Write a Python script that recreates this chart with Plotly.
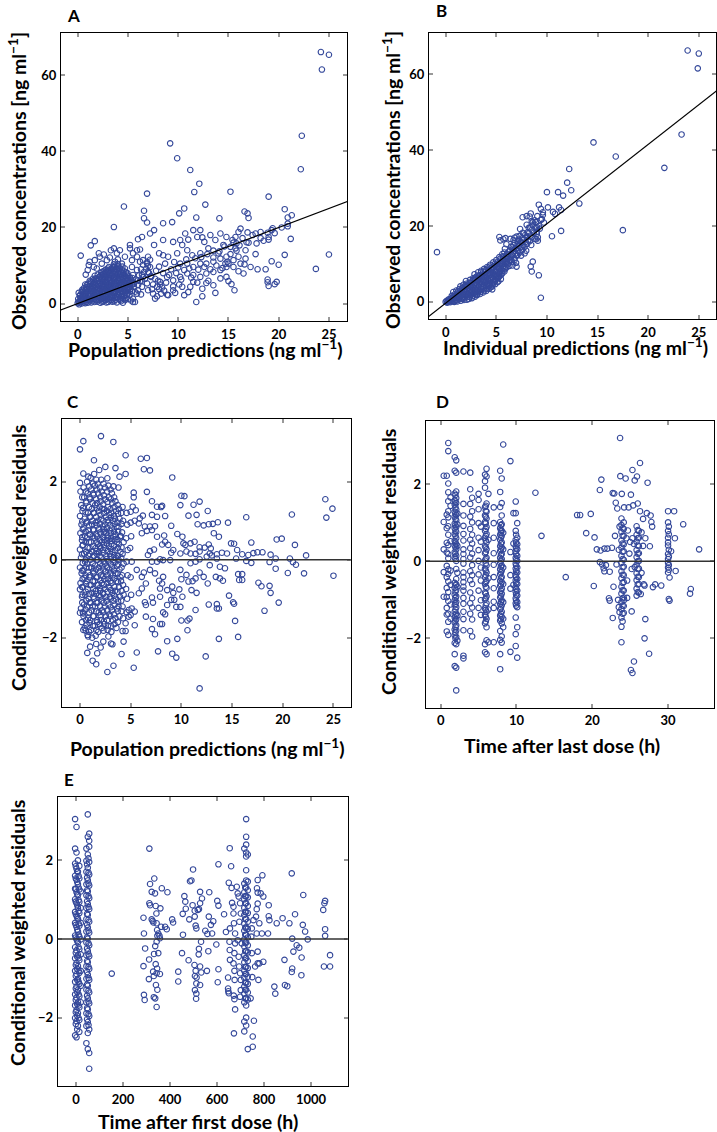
import plotly.graph_objects as go

MARKER = "#34489a"
FONT = "Lato"

# ---------------- data ----------------
# A: observed concentration vs population prediction (ng/ml)
a_sparse = [
    (24.2, 66.1), (25.0, 65.4), (24.3, 61.5), (22.3, 44.1), (22.2, 35.3), (9.2, 42.1), (9.9, 38.2),
    (11.2, 35.1), (12.1, 31.5), (11.6, 29.3), (15.2, 29.4), (6.9, 28.9), (19.0, 28.1), (12.7, 26.0),
    (4.6, 25.5), (20.6, 24.8), (16.6, 24.2), (16.9, 23.7), (17.0, 22.5), (21.3, 23.2), (20.9, 22.6),
    (20.9, 21.0), (6.6, 24.4), (6.6, 22.4), (6.9, 21.3), (8.5, 21.1), (9.4, 21.4), (10.1, 23.7),
    (10.6, 25.0), (3.6, 20.1), (14.1, 22.4), (11.8, 22.6), (19.4, 19.8), (21.2, 17.0), (23.7, 9.1),
    (25.0, 12.9), (20.6, 12.8), (17.7, 13.0), (17.9, 9.0), (18.7, 9.0), (19.3, 11.1), (20.0, 10.2),
    (18.9, 6.3), (18.9, 5.6), (19.0, 4.6), (19.6, 5.1), (19.8, 5.7), (11.8, 0.4), (12.4, 1.9),
    (13.7, 2.8), (15.6, 3.5), (15.3, 5.1), (15.0, 5.9), (10.6, 2.2), (0.3, 12.6), (1.3, 15.3),
    (1.7, 16.4), (18.9, 18.6), (19.0, 16.8), (19.3, 19.3), (18.2, 18.8), (17.7, 18.4), (16.9, 18.7),
    (16.2, 19.7), (16.0, 18.8), (15.7, 17.5), (15.4, 16.7), (15.8, 15.8), (15.7, 14.5), (15.2, 14.9),
    (16.8, 16.1),
    (5.2, 15.4), (5.2, 14.5), (6.0, 16.9), (6.4, 17.5), (5.9, 14.0), (6.2, 14.2), (7.6, 15.4),
    (7.2, 18.4), (7.6, 19.3), (8.5, 16.7), (9.5, 16.2), (10.2, 16.7), (10.4, 15.4), (10.7, 18.4),
    (11.0, 16.8), (11.5, 19.3), (11.9, 17.5), (12.2, 19.3), (12.4, 17.4), (12.6, 16.2), (13.2, 18.0),
    (13.7, 16.7), (14.2, 18.4), (14.5, 15.4), (14.8, 17.5), (13.0, 14.5), (13.5, 13.9), (14.0, 13.2),
    (12.2, 13.2), (11.4, 12.7), (10.9, 14.0), (9.9, 13.2), (9.0, 12.3), (8.5, 12.7), (8.1, 13.2),
    (9.6, 10.9), (10.2, 10.5), (10.9, 10.5), (11.5, 9.6), (12.2, 10.5), (12.8, 10.5), (13.5, 11.0),
    (14.2, 11.8), (14.8, 12.3), (15.5, 11.4), (16.0, 12.3), (14.2, 8.8), (13.5, 8.3), (12.8, 7.9),
    (12.2, 7.0), (11.5, 7.5), (10.9, 7.9), (10.2, 7.0), (9.5, 6.1), (8.9, 7.0), (8.2, 5.7), (7.9, 4.4),
    (7.7, 1.3), (9.0, 2.2), (9.5, 3.5), (10.4, 4.4), (11.2, 4.4), (11.5, 5.7), (12.8, 5.4), (13.5, 4.8),
    (14.2, 6.6), (14.8, 9.6), (14.7, 10.5), (15.5, 9.6), (16.2, 10.5), (16.7, 11.8), (17.2, 9.6),
    (16.5, 7.9), (6.5, 11.4), (6.9, 10.5), (7.2, 9.6), (7.0, 8.3), (6.5, 7.0), (7.3, 7.0), (6.9, 5.3),
    (6.4, 4.4), (6.0, 3.5), (7.0, 3.5), (7.5, 2.6), (5.9, 2.6), (5.5, 1.3), (5.7, 0.4), (7.9, 1.9),
    (5.5, 13.2), (5.4, 11.4), (5.9, 12.3), (6.2, 11.0), (5.4, 9.6), (5.9, 8.8), (5.5, 7.5), (5.0, 6.6),
    (6.0, 6.1), (4.2, 14.0), (3.9, 13.2), (3.3, 14.0), (3.6, 14.5), (2.6, 12.9), (2.2, 12.3),
    (2.1, 13.2), (1.7, 11.4), (1.1, 10.1), (1.0, 8.8), (1.2, 11.0), (1.6, 9.6), (0.8, 7.6), (1.9, 9.2),
    (2.4, 10.5), (2.9, 11.4), (3.2, 12.1), (3.7, 11.0), (4.0, 11.6), (4.4, 10.5), (4.7, 12.3),
    (6.4, 7.5), (6.6, 8.3), (6.8, 9.1), (7.0, 9.9), (6.9, 10.8), (7.2, 11.5), (6.5, 10.2), (7.1, 8.0),
    (6.7, 6.5), (7.3, 7.2), (7.0, 12.3), (6.3, 9.0), (8.0, 6.0), (8.2, 5.0), (8.4, 4.2), (8.6, 3.4),
    (8.3, 2.6), (8.8, 5.5), (8.1, 3.8), (8.9, 2.3), (5.6, 5.2), (5.8, 6.3), (6.0, 4.8), (6.2, 5.9),
    (6.1, 7.4), (6.4, 6.0), (5.7, 3.1), (6.3, 2.4), (7.5, 5.0), (7.7, 6.5), (7.4, 3.8), (7.8, 8.6),
    (8.1, 9.7), (8.5, 8.0), (8.7, 10.5), (9.1, 7.5), (9.3, 9.0), (9.5, 4.5), (9.8, 8.0), (10.0, 9.5),
    (10.3, 6.3), (10.6, 8.8), (10.8, 11.6), (11.1, 9.2), (11.3, 6.8), (11.7, 11.9), (12.0, 8.9),
    (12.3, 12.2), (12.6, 9.6), (12.9, 13.0), (13.2, 9.0), (13.5, 12.1), (13.8, 10.0), (14.1, 13.7),
    (14.4, 9.3), (14.6, 15.0), (14.9, 11.0), (15.2, 13.0), (15.5, 16.0), (15.8, 13.9), (16.1, 15.3),
    (16.4, 17.2), (16.7, 14.0), (17.0, 16.0), (17.4, 18.0), (17.8, 15.8), (18.2, 17.2), (18.5, 16.5),
    (19.0, 17.5), (19.6, 18.5), (20.3, 20.0), (20.9, 20.3), (15.0, 10.5), (13.0, 6.0), (11.0, 3.0),
    (9.7, 2.8), (10.1, 5.0), (11.9, 5.5), (12.4, 3.9), (14.8, 7.0), (16.0, 8.5), (16.6, 10.3),
]
a_dense = [
    (0.0, 0.1), (0.1, 0.5), (0.05, 1.2), (0.2, 2.0), (0.1, 2.8), (0.15, -0.2), (0.25, 0.8), (0.3, 1.6),
    (0.4, 0.0), (0.5, 0.7), (0.45, 1.5), (0.55, 2.4), (0.5, 3.3), (0.6, 4.0), (0.6, 0.3),
    (0.75, 0.1), (0.8, 0.9), (0.7, 1.8), (0.85, 2.6), (0.8, 3.4), (0.9, 4.3), (0.75, 5.0),
    (1.0, 0.2), (1.1, 1.0), (1.05, 1.9), (1.2, 2.7), (1.1, 3.5), (1.15, 4.4), (1.0, 5.2), (1.2, 6.0),
    (1.35, 0.3), (1.4, 1.2), (1.3, 2.1), (1.5, 2.9), (1.4, 3.8), (1.45, 4.7), (1.35, 5.6), (1.5, 6.5),
    (1.65, 0.4), (1.7, 1.3), (1.6, 2.2), (1.8, 3.1), (1.7, 4.0), (1.75, 4.9), (1.65, 5.7), (1.8, 6.6),
    (1.7, 7.3), (1.95, 0.5), (2.0, 1.4), (1.9, 2.3), (2.1, 3.2), (2.0, 4.1), (2.05, 5.0), (1.95, 5.9),
    (2.1, 6.8), (2.0, 7.6), (2.25, 0.2), (2.3, 1.1), (2.2, 2.0), (2.4, 2.9), (2.3, 3.8), (2.35, 4.7),
    (2.25, 5.6), (2.4, 6.5), (2.3, 7.4), (2.35, 8.2), (2.55, 0.6), (2.6, 1.5), (2.5, 2.4), (2.7, 3.3),
    (2.6, 4.2), (2.65, 5.1), (2.55, 6.0), (2.7, 6.9), (2.6, 7.8), (2.65, 8.6), (2.85, 0.3), (2.9, 1.2),
    (2.8, 2.1), (3.0, 3.0), (2.9, 3.9), (2.95, 4.8), (2.85, 5.7), (3.0, 6.6), (2.9, 7.5), (2.95, 8.4),
    (3.0, 9.2), (3.15, 0.8), (3.2, 1.7), (3.1, 2.6), (3.3, 3.5), (3.2, 4.4), (3.25, 5.3), (3.15, 6.2),
    (3.3, 7.1), (3.2, 8.0), (3.25, 8.9), (3.1, 9.6), (3.45, 0.5), (3.5, 1.4), (3.4, 2.3), (3.6, 3.2),
    (3.5, 4.1), (3.55, 5.0), (3.45, 5.9), (3.6, 6.8), (3.5, 7.7), (3.55, 8.6), (3.45, 9.5), (3.6, 10.3),
    (3.75, 1.0), (3.8, 1.9), (3.7, 2.8), (3.9, 3.7), (3.8, 4.6), (3.85, 5.5), (3.75, 6.4), (3.9, 7.3),
    (3.8, 8.2), (3.85, 9.1), (3.75, 10.0), (4.05, 1.3), (4.1, 2.2), (4.0, 3.1), (4.2, 4.0), (4.1, 4.9),
    (4.15, 5.8), (4.05, 6.7), (4.2, 7.6), (4.1, 8.5), (4.15, 9.4), (4.0, 10.4), (4.35, 1.6), (4.4, 2.5),
    (4.3, 3.4), (4.5, 4.3), (4.4, 5.2), (4.45, 6.1), (4.35, 7.0), (4.5, 7.9), (4.4, 8.8), (4.45, 9.7),
    (4.65, 2.0), (4.7, 2.9), (4.6, 3.8), (4.8, 4.7), (4.7, 5.6), (4.75, 6.5), (4.65, 7.4), (4.8, 8.3),
    (4.7, 9.2), (4.95, 2.6), (5.0, 3.5), (4.9, 4.4), (5.1, 5.3), (5.0, 6.2), (5.05, 7.1), (4.95, 8.0),
    (5.3, 0.8), (5.25, 3.8), (5.4, 4.9), (5.3, 5.8), (5.45, 6.7), (5.5, 0.4), (3.9, 0.3), (4.3, 0.6),
    (4.7, 0.9), (5.0, 1.2), (4.5, 0.2),
    (0.2, 0.3), (0.3, 1.1), (0.25, 2.3), (0.4, 3.0), (0.35, 0.5), (0.55, 1.9), (0.65, 2.9), (0.45, 3.6),
    (0.6, 1.1), (0.9, 0.5), (0.95, 1.5), (0.85, 3.0), (0.95, 3.9), (0.9, 4.8), (0.7, 2.2), (0.75, 1.3),
    (1.2, 0.6), (1.25, 1.6), (1.3, 2.5), (1.25, 3.3), (1.3, 4.1), (1.2, 5.0), (1.3, 5.8), (1.15, 2.2),
    (1.55, 0.8), (1.6, 1.7), (1.55, 2.6), (1.6, 3.5), (1.55, 4.4), (1.6, 5.3), (1.55, 6.1), (1.8, 0.9),
    (1.85, 2.7), (1.85, 4.5), (2.15, 0.9), (2.1, 1.8), (2.15, 2.7), (2.2, 3.6), (2.15, 4.5), (2.2, 5.4),
    (2.15, 6.3), (2.2, 7.1), (1.95, 3.7), (1.9, 6.4), (2.45, 0.4), (2.5, 1.3), (2.45, 2.0), (2.5, 3.0),
    (2.45, 3.9), (2.5, 4.8), (2.45, 5.7), (2.5, 6.6), (2.45, 7.5), (2.5, 8.4), (2.75, 0.9), (2.8, 1.7),
    (2.75, 2.6), (2.8, 3.5), (2.75, 4.4), (2.8, 5.3), (2.75, 6.2), (2.8, 7.1), (2.75, 8.0), (2.8, 8.9),
    (3.05, 0.4), (3.1, 1.3), (3.05, 2.2), (3.1, 3.1), (3.05, 4.0), (3.1, 4.9), (3.05, 5.8), (3.1, 6.7),
    (3.05, 7.6), (3.1, 8.5), (3.35, 0.9), (3.4, 1.8), (3.35, 2.7), (3.4, 3.6), (3.35, 4.5), (3.4, 5.4),
    (3.35, 6.3), (3.4, 7.2), (3.35, 8.1), (3.4, 9.0), (3.65, 0.6), (3.7, 1.5), (3.65, 2.4), (3.7, 3.3),
    (3.65, 4.2), (3.7, 5.1), (3.65, 6.0), (3.7, 6.9), (3.65, 7.8), (3.7, 8.7), (3.65, 9.6), (3.95, 1.7),
    (4.0, 2.6), (3.95, 3.5), (4.0, 4.4), (3.95, 5.3), (4.0, 6.2), (3.95, 7.1), (4.0, 8.0), (3.95, 8.9),
    (4.0, 9.8), (4.25, 1.0), (4.3, 1.9), (4.25, 2.9), (4.3, 3.8), (4.25, 4.7), (4.3, 5.6), (4.25, 6.5),
    (4.3, 7.4), (4.25, 8.3), (4.55, 1.2), (4.6, 2.2), (4.55, 3.1), (4.6, 4.0), (4.55, 4.9), (4.6, 5.8),
    (4.55, 6.8), (4.6, 7.7), (4.55, 8.6), (4.85, 1.5), (4.9, 2.3), (4.85, 3.2), (4.9, 3.9), (4.85, 5.0),
    (4.9, 5.9), (4.85, 6.8), (4.9, 7.6), (5.15, 2.2), (5.2, 3.1), (5.15, 4.3), (5.2, 4.8), (5.15, 6.0),
    (5.2, 6.9), (5.4, 3.3), (5.45, 5.5), (5.6, 4.4),
]
line_a_x = [-2, 28]
line_a_y = [-2, 28]

# B: observed concentration vs individual prediction (ng/ml)
b_sparse = [
    (23.9, 66.2), (25.0, 65.4), (24.9, 61.5), (23.3, 44.1), (21.6, 35.3), (14.6, 42.0), (16.8, 38.3),
    (13.2, 25.9), (12.2, 35.0), (12.0, 31.4), (12.4, 29.4), (11.1, 28.9), (10.0, 28.9), (11.6, 28.0),
    (17.5, 18.9), (10.5, 17.3), (11.4, 18.7), (10.1, 24.9), (11.2, 24.9), (11.4, 24.2), (10.6, 23.7),
    (10.8, 23.2), (9.2, 25.6), (9.4, 24.5), (9.6, 23.6), (9.6, 22.9), (9.7, 20.9), (9.4, 21.6),
    (9.05, 22.6), (8.4, 23.3), (8.0, 22.6), (7.6, 22.3), (8.9, 21.0), (9.0, 19.8), (8.5, 21.3),
    (9.0, 17.9), (8.95, 16.5), (9.1, 16.1), (8.6, 10.6), (8.4, 9.3), (8.5, 8.0), (9.2, 7.0), (9.4, 1.1),
    (-0.86, 13.1), (4.6, 3.3), (5.1, 6.2), (5.3, 6.7), (6.6, 9.6), (7.0, 9.3), (6.3, 11.0), (6.0, 10.2),
    (6.8, 11.0), (7.1, 12.4), (7.8, 12.8), (7.5, 14.6), (7.2, 15.4), (5.3, 17.1), (5.4, 16.2),
    (5.7, 16.5), (5.9, 16.8), (6.4, 16.6), (6.8, 16.9),
]
b_dense = [
    (0.0, 0.0), (0.1, 0.3), (0.2, 0.1), (0.3, 0.7), (0.15, -0.2), (0.4, 0.2), (0.5, 0.9), (0.6, 1.6),
    (0.45, -0.1), (0.55, 0.5), (0.7, 0.4), (0.8, 1.2), (0.9, 2.0), (0.75, 2.6), (0.85, 0.0), (1.0, 0.6),
    (1.1, 1.4), (1.2, 2.2), (1.05, 3.0), (1.15, 0.1), (1.3, 0.7), (1.4, 1.6), (1.5, 2.5), (1.35, 3.4),
    (1.45, 4.1), (1.5, 0.3), (1.6, 1.0), (1.7, 1.9), (1.8, 2.8), (1.65, 3.7), (1.75, 4.5), (1.8, 0.5),
    (1.9, 1.2), (2.0, 2.1), (2.1, 3.0), (1.95, 3.9), (2.05, 4.8), (2.1, 0.6), (2.0, 5.5), (2.2, 1.4),
    (2.3, 2.3), (2.4, 3.2), (2.25, 4.1), (2.35, 5.0), (2.4, 5.8), (2.3, 0.8), (2.5, 1.8), (2.6, 2.7),
    (2.7, 3.6), (2.55, 4.5), (2.65, 5.4), (2.7, 6.2), (2.6, 1.0), (2.8, 2.2), (2.9, 3.1), (3.0, 4.0),
    (2.85, 4.9), (2.95, 5.8), (3.0, 6.6), (2.9, 1.4), (2.85, 7.3), (3.1, 2.6), (3.2, 3.5), (3.3, 4.4),
    (3.15, 5.3), (3.25, 6.2), (3.3, 7.0), (3.2, 7.8), (3.1, 1.8), (3.4, 3.0), (3.5, 3.9), (3.6, 4.8),
    (3.45, 5.7), (3.55, 6.6), (3.6, 7.4), (3.5, 8.2), (3.4, 2.1), (3.7, 3.4), (3.8, 4.3), (3.9, 5.2),
    (3.75, 6.1), (3.85, 7.0), (3.9, 7.8), (3.8, 8.7), (3.7, 2.5), (4.0, 3.8), (4.1, 4.7), (4.2, 5.6),
    (4.05, 6.5), (4.15, 7.4), (4.2, 8.3), (4.1, 9.2), (4.0, 2.9), (4.3, 4.4), (4.4, 5.3), (4.5, 6.2),
    (4.35, 7.1), (4.45, 8.0), (4.5, 8.9), (4.4, 9.8), (4.3, 3.5), (4.6, 5.0), (4.7, 5.9), (4.8, 6.8),
    (4.65, 7.7), (4.75, 8.6), (4.8, 9.5), (4.7, 10.4), (4.6, 4.1), (4.9, 5.6), (5.0, 6.5), (5.1, 7.4),
    (4.95, 8.3), (5.05, 9.2), (5.1, 10.1), (5.0, 11.0), (4.9, 4.7), (5.2, 6.4), (5.3, 7.3), (5.4, 8.2),
    (5.25, 9.1), (5.35, 10.0), (5.4, 10.9), (5.3, 11.8), (5.2, 5.4), (5.5, 7.2), (5.6, 8.1), (5.7, 9.0),
    (5.55, 9.9), (5.65, 10.8), (5.7, 11.7), (5.6, 12.6), (5.8, 8.0), (5.9, 9.3), (6.0, 10.6),
    (6.1, 11.9), (6.2, 13.2), (5.85, 14.0), (6.05, 12.5), (6.15, 9.9), (6.0, 15.2), (6.3, 9.5),
    (6.4, 11.2), (6.5, 12.5), (6.6, 13.8), (6.7, 15.0), (6.45, 14.5), (6.55, 10.5), (6.7, 16.3),
    (6.8, 11.5), (6.9, 12.8), (7.0, 14.0), (7.1, 15.2), (7.2, 16.4), (6.95, 10.3), (7.15, 13.4),
    (7.0, 17.2), (7.3, 13.0), (7.4, 14.4), (7.5, 15.6), (7.6, 16.8), (7.7, 18.0), (7.45, 12.2),
    (7.65, 14.9), (7.35, 19.2), (7.8, 14.5), (7.9, 15.8), (8.0, 17.0), (8.1, 18.3), (8.2, 19.5),
    (7.95, 13.5), (8.15, 16.2), (8.0, 20.3), (8.3, 16.0), (8.4, 17.5), (8.5, 19.0), (8.6, 20.2),
    (8.8, 21.5), (8.45, 15.0), (8.7, 18.2), (8.8, 16.6), (8.3, 22.5), (9.0, 18.5), (9.2, 20.0),
    (9.3, 19.3), (9.5, 21.8), (9.1, 17.0),
    (0.25, 0.4), (0.35, 0.1), (0.5, 0.3), (0.65, 0.9), (0.6, 0.1), (0.75, 1.6), (0.95, 1.0), (0.9, 0.3),
    (1.05, 1.8), (1.1, 0.4), (1.25, 1.1), (1.2, 2.8), (1.3, 1.9), (1.45, 1.0), (1.55, 2.0), (1.4, 2.9),
    (1.6, 3.2), (1.7, 0.8), (1.75, 2.4), (1.85, 3.4), (1.9, 1.7), (2.0, 2.6), (1.95, 4.4), (2.15, 2.0),
    (2.2, 3.6), (2.1, 4.3), (2.3, 1.8), (2.35, 2.9), (2.45, 4.6), (2.4, 1.3), (2.55, 2.2), (2.6, 3.2),
    (2.5, 5.1), (2.7, 4.0), (2.65, 1.5), (2.8, 2.7), (2.85, 3.6), (2.75, 5.8), (2.95, 2.0), (3.0, 4.5),
    (2.9, 6.2), (3.05, 3.0), (3.1, 5.7), (3.2, 4.0), (3.15, 2.2), (3.25, 6.7), (3.3, 3.0), (3.35, 4.9),
    (3.4, 7.0), (3.45, 2.6), (3.5, 5.4), (3.55, 3.4), (3.6, 6.2), (3.5, 7.8), (3.7, 4.0), (3.75, 5.6),
    (3.65, 7.0), (3.8, 3.0), (3.85, 6.5), (3.9, 8.3), (3.95, 4.3), (4.0, 5.2), (4.05, 7.0), (4.1, 3.4),
    (4.15, 8.8), (4.2, 6.1), (4.25, 4.8), (4.3, 7.6), (4.35, 9.3), (4.4, 5.8), (4.45, 3.9), (4.5, 7.5),
    (4.55, 8.4), (4.6, 6.4), (4.65, 4.6), (4.7, 9.0), (4.75, 7.2), (4.8, 5.4), (4.85, 10.0), (4.9, 8.0),
    (4.95, 6.0), (5.0, 9.6), (5.05, 7.0), (5.1, 5.2), (5.15, 10.6), (5.2, 8.7), (5.25, 6.8), (5.3, 9.6),
    (5.35, 7.8), (5.4, 11.4), (5.45, 6.0), (5.5, 8.6), (5.55, 10.4), (5.6, 7.6), (5.65, 12.0),
    (5.7, 9.5), (5.75, 11.0), (5.8, 13.0), (5.85, 8.6), (5.9, 10.0), (5.95, 12.0), (6.0, 9.0),
    (6.1, 11.3), (6.2, 12.6), (6.25, 10.4), (6.35, 13.5), (6.4, 12.0), (6.5, 11.0), (6.6, 14.4),
    (6.65, 12.8), (6.75, 13.5), (6.85, 15.5), (6.9, 14.0), (7.05, 12.2), (7.1, 16.0), (7.25, 14.8),
    (7.3, 17.4), (7.4, 15.8), (7.55, 13.6), (7.6, 18.2), (7.75, 16.4), (7.85, 17.6), (8.05, 15.3),
    (8.2, 18.0), (8.35, 19.6), (8.5, 17.0), (8.6, 21.0), (8.9, 19.5),
]
line_b_x = [-2, 28]
line_b_y = [-4.5, 58.2]

# C: CWRES vs population prediction
c_sparse = [
    (0.0, 2.83), (0.33, 3.04), (2.07, 3.17), (3.29, 3.02), (1.38, 2.55), (4.5, 2.68), (6.0, 2.59),
    (6.6, 2.61), (6.3, 2.32), (6.9, 2.29), (9.1, 2.11), (3.5, 2.35), (2.5, 2.38), (1.9, 2.3),
    (0.33, 2.21), (0.82, 2.13), (0.0, 1.97), (4.5, 2.2), (3.9, 2.13), (2.7, 2.09), (3.3, 1.88),
    (3.8, 1.85), (6.6, 1.74), (5.3, 1.72), (5.3, 1.6), (10.0, 1.64), (10.3, 1.63), (11.8, 1.49),
    (11.2, 1.41), (9.9, 1.40), (7.1, 1.5), (8.0, 1.35), (7.6, 1.36), (8.1, 1.38), (12.6, 1.25),
    (10.7, 1.13), (11.5, 1.15), (11.6, 0.91), (12.2, 0.88), (12.7, 0.91), (13.1, 0.92), (13.6, 0.96),
    (14.6, 0.95), (16.4, 1.09), (20.9, 1.16), (24.2, 1.55), (24.9, 1.31), (24.3, 1.08), (16.9, 0.44),
    (21.2, 0.38), (22.3, 0.11), (19.9, 0.54), (19.4, 0.52), (18.8, 0.13), (18.0, 0.19), (17.5, 0.19),
    (17.1, 0.17), (16.6, 0.12), (19.3, 0.03), (20.7, 0.03), (21.0, -0.06), (21.3, -0.13), (16.9, -0.08),
    (16.4, -0.03), (18.7, -0.06), (20.5, -0.34), (22.1, -0.35), (25.0, -0.41), (19.3, -0.23),
    (17.6, -0.59), (17.9, -0.68), (18.7, -0.67), (18.8, -0.85), (19.6, -1.1), (18.2, -1.31),
    (15.6, -0.37), (16.0, -0.37), (15.7, -0.52), (16.0, -0.52), (15.1, -1.09), (15.2, -1.13),
    (14.7, -0.92), (14.1, -0.54), (13.8, -0.48), (13.4, -0.44), (12.6, -0.61), (12.2, -0.44),
    (11.8, -0.33), (11.4, -0.48), (11.1, -0.55), (10.7, -0.56), (10.5, -0.39), (10.0, -0.5),
    (9.9, -0.26), (10.9, -0.09), (11.4, -0.05), (11.8, 0.01), (12.5, 0.08), (13.0, 0.11), (13.5, 0.14),
    (14.0, 0.18), (14.5, 0.16), (14.9, 0.42), (15.2, 0.41), (15.5, 0.25), (15.4, 0.03), (16.0, 0.14),
    (14.3, -0.22), (13.8, -0.18), (12.8, -0.14), (12.3, 0.31), (12.9, 0.29), (13.2, 0.68), (13.7, 0.59),
    (12.7, 0.39), (11.8, 0.32), (11.3, 0.46), (10.9, 0.42), (10.4, 0.38), (10.1, 0.59), (10.2, 0.42),
    (9.6, 0.66), (9.2, 0.25), (9.0, 0.18), (9.9, 0.16), (10.5, 0.21), (10.9, 0.16), (11.4, 0.15),
    (11.8, 0.21), (12.8, 0.16), (13.5, 0.03), (8.9, -0.01), (8.2, -0.01), (7.9, 0.01), (7.6, -0.05),
    (7.1, -0.05), (7.3, 0.26), (6.9, 0.22), (6.7, 0.12), (8.7, 0.38), (8.4, 0.46), (8.1, 0.39),
    (7.6, 0.59), (8.3, 0.62), (7.4, 0.86), (6.9, 0.85), (6.4, 0.85), (6.1, 0.68), (6.6, 0.74),
    (7.1, 0.76), (5.8, 0.93), (5.4, 1.0), (5.9, 1.06), (6.2, 1.13), (7.1, 1.15), (7.6, 1.1), (8.4, 1.12),
    (9.0, 0.87), (5.2, 1.36), (5.5, 1.27), (5.0, 1.23),
    (9.8, -0.76), (9.2, -0.85), (9.0, -1.03), (8.6, -1.16), (8.2, -1.35), (8.4, -1.4), (8.1, -1.65),
    (7.9, -1.65), (7.1, -1.78), (7.4, -1.91), (7.7, -2.35), (8.6, -2.09), (9.1, -2.41), (9.5, -2.51),
    (9.6, -2.03), (10.0, -1.56), (10.6, -1.56), (10.8, -1.51), (10.6, -1.81), (11.4, -1.29),
    (12.7, -1.15), (12.4, -2.48), (11.8, -3.3), (13.7, -2.03), (15.3, -1.57), (15.6, -1.98),
    (13.5, -1.14), (13.7, -1.25), (13.5, -1.25), (11.0, -0.78), (11.5, -0.85), (10.1, -0.95),
    (9.3, -1.03), (9.5, -1.21), (9.9, -1.21), (9.1, -0.69), (8.6, -0.78), (8.1, -0.61), (7.8, -0.54),
    (8.2, -0.44), (7.9, -0.74), (7.9, -0.95), (7.1, -0.97), (7.2, -1.1), (6.4, -1.09), (6.5, -1.16),
    (6.5, -1.46), (7.2, -1.52), (5.8, -0.86), (6.1, -0.74), (6.5, -0.61), (6.1, -0.44), (5.6, -0.26),
    (6.3, -0.33), (6.9, -0.26), (7.4, -0.35), (5.4, -1.68), (4.8, -1.29), (4.8, -1.46), (5.0, -1.42),
    (5.4, -1.33), (5.1, -1.25), (4.5, -1.63), (4.2, -1.83), (4.5, -1.83), (4.3, -2.1), (4.1, -2.42),
    (5.6, -2.38), (5.3, -2.77), (3.3, -2.72), (2.7, -2.88), (1.6, -2.68), (1.25, -2.59), (0.72, -2.39),
    (1.7, -2.4), (2.04, -2.25), (1.6, -2.16), (1.0, -2.23), (0.8, -1.97), (0.33, -1.8), (3.06, -2.15),
    (3.2, -2.17), (2.8, -1.97), (2.3, -2.1), (0.33, -1.38), (0.0, -1.36),
]
c_dense = [
    (0.05, 1.75), (0.12, 1.4), (0.0, 1.12), (0.15, 0.9), (0.04, 0.68), (0.2, 0.5), (0.0, 0.26),
    (0.1, 0.05), (0.0, -0.2), (0.16, -0.35), (0.05, -0.6), (0.0, -0.76), (0.2, -0.95), (0.1, -1.25),
    (0.36, 1.85), (0.42, 1.6), (0.3, 1.33), (0.46, 1.05), (0.35, 0.82), (0.5, 0.61), (0.3, 0.38),
    (0.41, 0.15), (0.5, -0.05), (0.34, -0.27), (0.45, -0.47), (0.3, -0.7), (0.52, -0.9), (0.4, -1.15),
    (0.35, -1.45), (0.46, -1.75), (0.7, 2.0), (0.76, 1.7), (0.64, 1.46), (0.8, 1.2), (0.7, 0.98),
    (0.86, 0.75), (0.66, 0.55), (0.75, 0.31), (0.85, 0.1), (0.7, -0.1), (0.8, -0.32), (0.65, -0.55),
    (0.76, -0.75), (0.86, -1.0), (0.7, -1.2), (0.8, -1.5), (0.65, -1.66), (0.75, -1.93),
    (1.05, 2.1), (1.1, 1.8), (1.0, 1.55), (1.16, 1.3), (1.04, 1.1), (1.2, 0.9), (1.0, 0.65),
    (1.1, 0.45), (1.21, 0.2), (1.05, 0.0), (1.15, -0.2), (1.0, -0.4), (1.1, -0.65), (1.22, -0.85),
    (1.05, -1.1), (1.15, -1.3), (1.0, -1.55), (1.1, -1.8), (1.2, -2.0), (1.4, 2.2), (1.45, 1.9),
    (1.35, 1.66), (1.5, 1.4), (1.4, 1.2), (1.55, 0.95), (1.35, 0.75), (1.45, 0.55), (1.55, 0.3),
    (1.4, 0.1), (1.5, -0.15), (1.35, -0.35), (1.45, -0.55), (1.56, -0.8), (1.4, -1.0), (1.5, -1.2),
    (1.36, -1.45), (1.46, -1.7), (1.55, -1.95), (1.75, 1.95), (1.8, 1.7), (1.7, 1.45), (1.86, 1.25),
    (1.74, 1.0), (1.9, 0.8), (1.7, 0.6), (1.8, 0.4), (1.9, 0.2), (1.75, 0.0), (1.85, -0.2),
    (1.7, -0.45), (1.8, -0.65), (1.9, -0.9), (1.75, -1.1), (1.85, -1.35), (1.7, -1.6), (1.8, -1.85),
    (2.1, 2.05), (2.16, 1.75), (2.05, 1.5), (2.2, 1.3), (2.1, 1.05), (2.25, 0.85), (2.05, 0.65),
    (2.15, 0.45), (2.25, 0.25), (2.1, 0.05), (2.2, -0.15), (2.05, -0.4), (2.15, -0.6), (2.26, -0.85),
    (2.1, -1.05), (2.2, -1.3), (2.05, -1.55), (2.15, -1.75), (2.45, 1.85), (2.5, 1.55), (2.4, 1.3),
    (2.56, 1.1), (2.45, 0.9), (2.6, 0.7), (2.4, 0.5), (2.5, 0.3), (2.6, 0.1), (2.45, -0.1),
    (2.55, -0.3), (2.4, -0.5), (2.5, -0.75), (2.6, -0.95), (2.45, -1.2), (2.55, -1.45), (2.4, -1.65),
    (2.8, 1.9), (2.86, 1.6), (2.75, 1.35), (2.9, 1.15), (2.8, 0.95), (2.95, 0.75), (2.75, 0.55),
    (2.85, 0.35), (2.95, 0.15), (2.8, -0.05), (2.9, -0.25), (2.75, -0.5), (2.85, -0.7), (2.95, -0.95),
    (2.8, -1.15), (2.9, -1.4), (2.76, -1.7), (3.15, 1.7), (3.2, 1.45), (3.1, 1.2), (3.25, 1.0),
    (3.15, 0.8), (3.3, 0.6), (3.1, 0.4), (3.2, 0.2), (3.3, 0.0), (3.15, -0.2), (3.25, -0.4),
    (3.1, -0.6), (3.2, -0.85), (3.3, -1.05), (3.15, -1.3), (3.25, -1.55), (3.1, -1.85), (3.5, 1.5),
    (3.55, 1.25), (3.45, 1.05), (3.6, 0.85), (3.5, 0.65), (3.65, 0.45), (3.45, 0.25), (3.55, 0.05),
    (3.65, -0.15), (3.5, -0.35), (3.6, -0.55), (3.45, -0.8), (3.55, -1.0), (3.65, -1.25), (3.5, -1.5),
    (3.6, -1.75), (3.85, 1.3), (3.9, 1.05), (3.8, 0.85), (3.95, 0.6), (3.85, 0.4), (4.0, 0.2),
    (3.8, 0.0), (3.9, -0.25), (4.0, -0.45), (3.85, -0.7), (3.95, -0.95), (3.8, -1.2), (3.9, -1.45),
    (4.2, 1.35), (4.25, 1.0), (4.15, 0.7), (4.3, 0.45), (4.2, 0.15), (4.3, -0.1), (4.15, -0.4),
    (4.25, -0.65), (4.3, -0.9), (4.2, -1.2), (4.25, -1.5), (4.6, 1.2), (4.65, 0.9), (4.55, 0.55),
    (4.7, 0.25), (4.6, -0.05), (4.7, -0.4), (4.55, -0.75), (4.65, -1.0), (4.6, -1.35), (5.0, 0.95),
    (5.05, 0.6), (4.95, 0.3), (5.1, -0.05), (5.0, -0.45), (5.05, -0.9),
    (0.55, 0.45), (0.9, -0.2), (1.25, 0.6), (1.6, -0.45), (1.95, 0.35), (2.3, -0.25), (2.65, 0.5),
    (3.0, -0.35), (3.35, 0.35), (0.95, 0.3), (1.3, -0.75), (1.65, 0.15), (2.0, -0.8), (2.35, 0.7),
    (2.7, -0.6), (3.05, 0.55), (3.4, -0.7), (3.75, 0.1),
    (0.22, 1.6), (0.25, 1.25), (0.22, 0.98), (0.28, 0.78), (0.22, 0.58), (0.25, 0.36), (0.2, 0.14),
    (0.27, -0.08), (0.22, -0.28), (0.26, -0.5), (0.2, -0.7), (0.25, -0.9), (0.22, -1.1), (0.28, -1.35),
    (0.2, -1.6), (0.58, 1.75), (0.6, 1.5), (0.55, 1.22), (0.62, 0.95), (0.56, 0.72), (0.6, 0.2),
    (0.57, 0.0), (0.62, -0.2), (0.55, -0.4), (0.6, -0.62), (0.57, -0.82), (0.62, -1.05), (0.55, -1.28),
    (0.6, -1.55), (0.57, -1.82), (0.92, 1.88), (0.95, 1.6), (0.9, 1.35), (0.96, 1.1), (0.9, 0.88),
    (0.94, 0.65), (0.9, 0.45), (0.96, 0.15), (0.92, -0.45), (0.95, -0.65), (0.9, -0.88), (0.96, -1.1),
    (0.9, -1.35), (0.94, -1.62), (0.9, -1.85), (1.27, 1.95), (1.3, 1.7), (1.25, 1.45), (1.32, 1.2),
    (1.25, 1.0), (1.3, 0.78), (1.27, 0.35), (1.32, 0.1), (1.25, -0.1), (1.3, -0.3), (1.27, -0.55),
    (1.32, -0.95), (1.25, -1.2), (1.3, -1.45), (1.27, -1.7), (1.62, 2.05), (1.65, 1.8), (1.6, 1.55),
    (1.66, 1.32), (1.6, 1.1), (1.64, 0.88), (1.6, 0.65), (1.66, 0.45), (1.62, 0.22), (1.65, 0.0),
    (1.6, -0.25), (1.66, -0.65), (1.6, -0.88), (1.64, -1.1), (1.6, -1.32), (1.66, -1.55), (1.62, -1.8),
    (1.97, 1.85), (2.0, 1.6), (1.95, 1.35), (2.02, 1.15), (1.95, 0.92), (2.0, 0.7), (1.97, 0.5),
    (2.02, 0.3), (1.95, 0.1), (2.0, -0.1), (1.97, -0.3), (2.02, -0.52), (1.95, -0.72), (2.0, -0.95),
    (1.97, -1.18), (2.02, -1.42), (1.95, -1.65), (2.32, 1.95), (2.35, 1.65), (2.3, 1.42), (2.36, 1.2),
    (2.3, 1.0), (2.34, 0.78), (2.3, 0.58), (2.36, 0.38), (2.32, 0.18), (2.35, -0.05), (2.3, -0.42),
    (2.36, -0.65), (2.3, -0.88), (2.34, -1.1), (2.3, -1.35), (2.36, -1.58), (2.32, -1.82),
    (2.67, 1.75), (2.7, 1.48), (2.65, 1.25), (2.72, 1.02), (2.65, 0.82), (2.7, 0.62), (2.67, 0.42),
    (2.72, 0.22), (2.65, 0.02), (2.7, -0.2), (2.67, -0.4), (2.72, -0.82), (2.65, -1.05), (2.7, -1.3),
    (2.67, -1.55), (2.72, -1.8), (3.02, 1.8), (3.05, 1.55), (3.0, 1.3), (3.06, 1.08), (3.0, 0.88),
    (3.04, 0.68), (3.0, 0.48), (3.06, 0.28), (3.02, 0.08), (3.05, -0.12), (3.0, -0.55), (3.06, -0.78),
    (3.0, -1.0), (3.04, -1.22), (3.0, -1.45), (3.06, -1.7), (3.37, 1.6), (3.4, 1.35), (3.35, 1.12),
    (3.42, 0.92), (3.35, 0.72), (3.4, 0.52), (3.37, 0.12), (3.42, -0.08), (3.35, -0.28), (3.4, -0.48),
    (3.37, -0.92), (3.42, -1.15), (3.35, -1.4), (3.4, -1.65), (3.72, 1.4), (3.75, 1.18), (3.7, 0.95),
    (3.76, 0.72), (3.7, 0.52), (3.74, 0.3), (3.7, 0.1), (3.76, -0.12), (3.72, -0.35), (3.75, -0.58),
    (3.7, -0.82), (3.76, -1.08), (3.72, -1.32), (3.75, -1.6), (4.07, 1.2), (4.1, 0.92), (4.05, 0.6),
    (4.1, 0.32), (4.07, 0.05), (4.1, -0.2), (4.05, -0.55), (4.1, -0.8), (4.07, -1.05), (4.1, -1.32),
]

# D: CWRES vs time after last dose (h) - nominal sampling times form columns
d_columns = [
    (0.4, [2.22, 1.02, 0.31, -0.28, -0.92]),
    (0.8, [2.22, 1.21, 0.86, 0.48, 0.23, -0.12, -0.41, -0.69, -0.93, -1.21, -1.38, -1.82]),
    (1.0, [3.07, 2.86, 2.02, 1.79, 1.56, 1.3, 1.14, 0.91, 0.69, 0.42, 0.19, 0.08, -0.21, -0.33, -0.52,
           -0.8, -1.03, -1.36, -1.57, -1.91]),
    (1.3, [1.66, 1.44, 0.52, -0.24, -0.61, -1.12, -1.49]),
    (1.85, [2.7, 2.35, 1.76, 1.58, 1.47, 1.29, 1.16, 0.98, 0.86, 0.71, 0.53, 0.41, 0.24, 0.1, -0.56,
            -0.69, -0.87, -1.01, -1.14, -1.31, -1.46, -1.59, -1.77, -1.92, -2.12, -2.41, -2.72]),
    (1.95, [1.72, 1.55, 1.4, 1.24, 1.1, 0.94, 0.8, 0.66, 0.49, 0.36, 0.2, 0.06, -0.62, -0.79, -0.95,
            -1.1, -1.25, -1.4, -1.55, -1.7, -1.85, -2.0]),
    (2.05, [2.62, 2.3, 1.81, 1.64, 1.51, 1.34, 1.2, 1.06, 0.89, 0.76, 0.6, 0.44, 0.31, 0.14, 0.01, -0.2,
            -0.46, -0.6, -0.74, -0.91, -1.05, -1.19, -1.36, -1.5, -1.66, -1.79, -1.96, -2.15, -2.76,
            -3.35]),
    (2.2, [1.24, 0.96, 0.4, -0.3, -0.66, -1.41, -2.06]),
    (3.0, [2.33, 1.49, 1.19, 0.92, 0.71, 0.54, 0.31, 0.19, 0.06, -0.06, -0.29, -0.41, -0.54, -0.66,
           -0.76, -0.95, -1.1, -1.31, -1.5, -1.79, -2.45, -2.52]),
    (3.9, [2.3, 1.87, 1.49, 1.16, 0.84, 0.56, 0.34, 0.1, -0.26, -0.49, -0.81, -1.09, -1.36, -1.81]),
    (4.15, [1.65, 1.3, 1.01, 0.69, 0.46, 0.2, -0.1, -0.36, -0.59, -0.96, -1.2, -1.51, -1.95]),
    (5.0, [1.75, 1.59, 1.35, 0.99, 0.61, 0.29, 0.01, -0.34, -0.76, -1.21]),
    (5.3, [0.9, 0.51, -0.16, -0.5, -1.01, -1.39]),
    (5.85, [2.25, 2.08, 1.91, 1.41, 1.19, 1.02, 0.79, 0.61, 0.39, 0.21, 0.02, -0.19, -0.41, -0.59,
            -0.81, -0.99, -1.22, -1.39, -1.61, -2.15, -2.36]),
    (5.95, [1.44, 1.31, 1.16, 0.99, 0.84, 0.66, 0.54, 0.36, 0.24, 0.06, -0.06, -0.24, -0.36, -0.54,
            -0.66, -0.84, -0.96, -1.14, -1.26, -1.44, -1.56]),
    (6.05, [2.4, 2.2, 1.5, 1.29, 1.11, 0.89, 0.71, 0.49, 0.31, 0.09, -0.11, -0.29, -0.51, -0.69, -0.91,
            -1.09, -1.31, -1.49, -1.71, -2.05, -2.41]),
    (6.3, [1.75, 0.56, -0.44, -1.25, -2.1]),
    (7.0, [1.4, 0.99, 0.61, 0.21, -0.09, -0.41, -0.7, -1.05, -1.21, -2.1]),
    (7.85, [2.35, 1.8, 1.41, 1.02, 0.86, 0.69, 0.56, 0.39, 0.26, 0.09, -0.04, -0.21, -0.34, -0.51,
            -0.64, -0.81, -0.94, -1.11, -1.24, -1.41, -1.54, -1.81, -2.04, -2.41, -2.8]),
    (7.95, [0.94, 0.81, 0.74, 0.61, 0.46, 0.31, 0.16, 0.01, -0.14, -0.29, -0.44, -0.6, -0.76, -0.9,
            -1.06, -1.2, -1.36, -1.5]),
    (8.05, [2.15, 1.51, 1.19, 0.96, 0.79, 0.66, 0.49, 0.36, 0.19, 0.06, -0.11, -0.24, -0.41, -0.54,
            -0.71, -0.84, -1.01, -1.14, -1.31, -1.44, -1.61, -1.95, -2.11]),
    (8.25, [3.03, 0.74, 0.31, -0.16, -0.59, -1.06, -1.49, -1.71]),
    (9.2, [2.6, 0.24, -0.36, -0.71, -2.35]),
    (9.6, [1.25, 0.46, -0.61]),
    (9.9, [1.55, 1.25, 0.79, 0.56, 0.39, 0.26, 0.09, -0.06, -0.19, -0.36, -0.49, -0.66, -0.79, -0.96,
           -1.09, -1.46, -1.89, -2.2]),
    (9.95, [0.69, 0.49, 0.34, 0.19, 0.04, -0.11, -0.26, -0.41, -0.56, -0.71, -0.86, -1.01, -1.15]),
    (10.1, [0.99, 0.61, 0.44, 0.31, 0.14, 0.01, -0.16, -0.29, -0.46, -0.59, -0.76, -0.89, -1.06, -1.19,
            -1.71, -2.5]),
    (23.85, [1.11, 0.94, 0.76, 0.54, 0.36, 0.14, -0.04, -0.26, -0.44, -0.66, -0.84, -1.06, -1.24,
             -1.46, -1.7, -2.1]),
    (24.0, [0.86, 0.66, 0.46, 0.25, 0.06, -0.15, -0.35, -0.56, -0.75, -0.96, -1.15, -1.36, -1.56]),
    (24.15, [1.01, 0.84, 0.66, 0.44, 0.26, 0.04, -0.14, -0.36, -0.54, -0.76, -0.94, -1.16, -1.34]),
    (25.85, [0.91, 0.69, 0.51, 0.29, 0.11, -0.09, -0.31, -0.49, -0.71, -0.89]),
    (26.0, [0.81, 0.6, 0.41, 0.2, 0.0, -0.2, -0.4, -0.6, -0.8]),
    (26.15, [0.79, 0.61, 0.39, 0.21, 0.01, -0.19, -0.41, -0.59, -0.81]),
    (30.0, [1.01, 0.79, 0.61, 0.49, 0.41, 0.19, 0.06, -0.04, -0.16, -0.29]),
    (30.1, [0.9, 0.7, 0.3, 0.12, -0.1, -0.22]),
]
d_sparse = [
    (12.5, 1.78), (13.3, 0.66), (16.5, -0.41), (18.0, 1.2), (18.4, 1.2), (19.2, 0.73), (19.8, 1.23),
    (20.3, 0.62), (20.2, -0.64), (20.6, 0.31), (21.0, -0.02), (21.1, 0.28), (21.3, -0.08),
    (21.5, -0.18), (21.6, -0.26), (21.8, -0.1), (21.6, 0.33), (22.0, 0.33), (22.3, -0.27),
    (22.6, 0.35), (22.2, -0.96), (22.3, -1.02), (22.7, -1.47), (22.8, -0.66), (23.0, 0.66),
    (22.7, 1.77), (22.9, 1.76), (23.1, 1.52), (23.3, 1.37), (23.4, -1.0), (23.5, -1.19), (23.6, -1.32),
    (23.2, -0.08), (21.0, 1.85), (21.2, 2.12), (23.7, 2.21), (24.4, 2.15), (24.8, 1.4), (25.3, 2.37),
    (25.1, 1.73), (25.6, 2.1), (25.4, 1.45), (25.9, 2.2), (26.3, 2.55), (27.3, 2.04), (26.7, 1.1),
    (27.2, 1.25), (27.7, 1.19), (27.8, 1.02), (27.9, 0.9), (27.6, 0.39), (26.9, -0.63), (27.0, -1.5),
    (26.9, -2.0), (27.5, -2.4), (25.5, -2.6), (25.1, -2.82), (25.3, -2.9), (28.3, -0.6), (28.0, -0.67),
    (29.1, -0.63), (30.0, 1.3), (30.8, 1.3), (30.4, 0.26), (30.9, 0.6), (31.0, -0.25), (30.2, -0.42),
    (30.1, -0.98), (30.2, -1.02), (32.0, 0.96), (33.0, -0.72), (32.9, -0.84), (34.1, 0.31),
    (23.67, 3.2), (24.5, 0.6), (24.7, 0.8), (25.0, 0.5), (24.9, 0.2), (25.3, 0.6), (25.5, 0.45),
    (25.2, -0.2), (25.6, -0.15), (24.6, -0.5), (26.5, 0.75), (26.7, 0.4), (26.5, -0.3), (26.8, -0.6),
    (27.0, 0.6), (26.4, -0.85), (24.6, -0.95), (25.2, -1.3), (24.2, -1.0), (23.5, 0.3), (23.6, 0.9),
    (26.3, 1.3), (26.0, 1.5), (24.2, 1.4), (23.9, 1.75),
]

# E: CWRES vs time after first dose (h)
e_columns = [
    (-4, [3.05, 2.3, 1.92, 1.61, 1.28, 1.01, 0.69, 0.41, 0.09, -0.21, -0.49, -0.81, -1.09, -1.41,
          -1.69, -2.01, -2.45]),
    (-1, [1.85, 1.54, 1.27, 0.95, 0.63, 0.36, 0.04, -0.35, -0.66, -0.94, -1.26, -1.55, -1.86, -2.16]),
    (2, [2.85, 2.2, 1.79, 1.51, 1.19, 0.91, 0.59, 0.31, -0.01, -0.29, -0.61, -0.89, -1.21, -1.49, -1.81,
         -2.09, -2.5]),
    (5, [1.72, 1.45, 1.14, 0.86, 0.55, 0.24, -0.05, -0.45, -0.76, -1.04, -1.35, -1.66, -1.95, -2.3]),
    (8, [2.0, 1.71, 1.39, 1.11, 0.79, 0.51, 0.19, -0.09, -0.41, -0.69, -1.01, -1.29, -1.61, -1.89,
         -2.21]),
    (11, [1.6, 1.31, 0.99, 0.71, 0.39, 0.11, -0.21, -0.49, -0.81, -1.09, -1.41, -1.69, -2.01]),
    (14, [1.86, 1.54, 1.26, 0.94, 0.66, 0.34, 0.06, -0.26, -0.54, -0.86, -1.14, -1.46, -1.74, -2.06,
          -2.36]),
    (20, [1.21, 0.79, 0.41, -0.01, -0.39, -0.81, -1.19, -1.61]),
    (44, [2.3, 1.99, 1.71, 1.39, 1.11, 0.79, 0.51, 0.19, -0.09, -0.41, -0.69, -1.01, -1.29, -1.61,
          -1.89, -2.21, -2.65]),
    (47, [1.9, 1.56, 1.24, 0.96, 0.64, 0.36, 0.04, -0.24, -0.56, -0.84, -1.16, -1.44, -1.76, -2.04]),
    (50, [3.17, 2.6, 2.15, 1.81, 1.49, 1.21, 0.89, 0.61, 0.29, 0.01, -0.31, -0.59, -0.91, -1.19, -1.51,
          -1.79, -2.11, -2.39, -2.8]),
    (53, [2.05, 1.69, 1.41, 1.09, 0.81, 0.49, 0.21, -0.11, -0.39, -0.71, -0.99, -1.31, -1.59, -1.91,
          -2.19]),
    (56, [2.68, 2.5, 2.35, 1.96, 1.64, 1.36, 1.04, 0.76, 0.44, 0.16, -0.16, -0.44, -0.76, -1.04, -1.36,
          -1.64, -1.96, -2.3, -2.9, -3.3]),
    (716, [2.3, 1.41, 1.19, 1.01, 0.79, 0.61, 0.39, 0.21, -0.01, -0.19, -0.41, -0.59, -0.81, -0.99,
           -1.21, -1.39, -1.61, -2.1, -2.35]),
    (720, [1.31, 1.09, 0.91, 0.69, 0.51, 0.29, 0.11, -0.09, -0.31, -0.49, -0.71, -0.89, -1.11, -1.29,
           -1.51]),
    (724, [3.05, 2.6, 2.4, 2.2, 2.1, 1.75, 1.49, 1.31, 1.09, 0.91, 0.69, 0.51, 0.29, 0.11, -0.09,
           -0.31, -0.49, -0.71, -0.89, -1.11, -1.29, -1.51, -1.69, -2.0, -2.2]),
    (731, [2.15, 1.46, 1.24, 1.06, 0.84, 0.66, 0.44, 0.26, 0.04, -0.16, -0.34, -0.56, -0.74, -0.96,
           -1.14, -1.36, -1.54, -2.8]),
]
e_sparse = [
    (152, -0.88), (312, 2.3), (287, 0.54), (289, 0.14), (287, -0.69), (289, -1.42), (292, -1.55),
    (294, -0.24), (311, -0.52), (310, -1.02), (315, 0.86), (312, 0.91), (315, 1.4), (322, 1.2),
    (322, 0.5), (329, 0.42), (326, 0.46), (336, 1.16), (333, 1.54), (328, -0.83), (331, -0.94),
    (331, -1.48), (337, -1.51), (343, -1.73), (340, -1.17), (346, -1.29), (332, -0.38), (337, -0.18),
    (343, -0.07), (346, 0.08), (345, 0.23), (343, 0.4), (350, 0.14), (355, 0.08), (357, 0.02),
    (362, 0.31), (342, 0.65), (339, 0.84), (359, 0.78), (365, 1.29), (350, -0.36), (339, -0.64),
    (345, -0.75), (343, -0.87), (357, -0.89), (379, 0.31), (386, 0.25), (389, 1.19), (409, 0.5),
    (413, 0.42), (435, -0.83), (435, -1.08), (451, -0.36), (454, 0.64), (455, 0.11), (461, 1.09),
    (465, 0.95), (467, 0.77), (479, -0.54), (482, 0.5), (485, 1.47), (491, 1.49), (496, 0.86),
    (505, 0.72), (505, 0.57), (509, 0.34), (512, 0.27), (498, 1.77), (504, -0.66), (509, -0.81),
    (506, -0.94), (513, -0.98), (512, -1.13), (506, -1.3), (512, -1.39), (511, -1.52), (518, 0.74),
    (523, 0.76), (528, 0.91), (528, 1.2), (532, -0.07), (523, -0.25), (522, -0.39), (528, -0.7),
    (533, -0.85), (528, -1.17), (536, 1.03), (550, 0.21), (559, 0.13), (557, -0.81), (565, 0.57),
    (574, 0.36), (579, 0.14), (584, 0.45), (563, -0.31), (567, 1.19), (597, -0.14), (603, -1.1),
    (606, -0.77), (601, 0.97), (606, 0.85), (606, 1.9), (630, 0.63), (638, 0.18), (650, 1.43),
    (647, -0.98), (647, -1.26), (648, -1.33), (650, -1.38), (654, 2.31), (660, 1.85), (662, 1.3),
    (664, 0.92), (655, 0.27), (653, -0.07), (654, -0.28), (655, -0.53), (670, 0.82), (670, 0.65),
    (672, 0.4), (677, 0.14), (677, -0.11), (674, -0.36), (670, -0.62), (674, -0.81), (675, -1.04),
    (671, -1.44), (674, -1.53), (677, -1.79), (672, -2.4), (684, 1.33), (688, 1.16), (692, 1.08),
    (698, 0.91), (701, 0.65), (695, 0.44), (688, -0.03), (692, -0.45), (694, -0.7), (698, -0.87),
    (701, -1.04), (701, -1.3), (698, -1.47), (705, -0.11), (743, -1.51), (750, -0.97), (748, -0.36),
    (746, 0.06), (748, 0.27), (755, 0.48), (766, 0.57), (769, 0.76), (773, 0.9), (773, 1.18),
    (770, 1.29), (773, 1.5), (752, -2.48), (757, -2.08), (752, -2.74), (769, 0.14), (773, -0.32),
    (773, -0.62), (776, -1.04), (762, -0.7), (780, -0.62), (786, 1.16), (797, 1.08), (793, 1.62),
    (791, 0.14), (780, 0.4), (797, -0.58), (820, 0.58), (823, 0.48), (820, 0.86), (817, 0.14),
    (854, 0.4), (844, -1.21), (848, -1.39), (879, 0.53), (887, -0.53), (889, -1.17), (899, -1.2),
    (908, 0.4), (918, 1.67), (918, -0.84), (920, -0.75), (925, -0.32), (920, 0.01), (932, 0.63),
    (939, -0.16), (950, -0.22), (959, -0.92), (960, -0.47), (965, 0.36), (967, 1.12), (975, 0.19),
    (986, -0.01), (1060, 0.97), (1057, 0.91), (1052, 0.74), (1060, 0.25), (1060, 0.08), (1055, -0.7),
    (1081, -0.7), (1081, -0.41),
]


def expand(cols):
    return [(t, r) for t, rs in cols for r in rs]


fig = go.Figure()


def add_points(pts, n):
    sfx = "" if n == 1 else str(n)
    fig.add_trace(go.Scatter(
        x=[p[0] for p in pts], y=[p[1] for p in pts], mode="markers",
        marker=dict(symbol="circle-open", size=5.5, color=MARKER, line=dict(width=1.1)),
        xaxis="x" + sfx, yaxis="y" + sfx, hoverinfo="skip"))


def add_line(xs, ys, n):
    sfx = "" if n == 1 else str(n)
    fig.add_trace(go.Scatter(x=xs, y=ys, mode="lines", line=dict(color="black", width=1.2),
                             xaxis="x" + sfx, yaxis="y" + sfx, hoverinfo="skip"))


add_points(a_dense + a_sparse, 1)
add_line(line_a_x, line_a_y, 1)
add_points(b_dense + b_sparse, 2)
add_line(line_b_x, line_b_y, 2)
add_points(c_dense + c_sparse, 3)
add_points(expand(d_columns) + d_sparse, 4)
add_points(expand(e_columns) + e_sparse, 5)

tickfont = dict(family=FONT, size=13, color="black", weight="bold")


def axis(domain, rng, dtick, anchor):
    return dict(domain=domain, range=rng, dtick=dtick, anchor=anchor, showline=True, linecolor="black",
                linewidth=1, mirror="ticks", ticks="inside", ticklen=4, tickwidth=1.5, tickcolor="#999",
                showgrid=False, zeroline=False, tickfont=tickfont, ticklabelstandoff=1)


fig.update_layout(
    width=717, height=1132, margin=dict(l=0, r=0, t=0, b=0),
    paper_bgcolor="white", plot_bgcolor="white", showlegend=False,
    xaxis=axis([0.0851, 0.4840], [-1.66, 26.8], 5, "y"),
    yaxis=axis([0.7164, 0.9708], [-4.6, 71.1], 20, "x"),
    xaxis2=axis([0.5983, 0.9993], [-1.65, 26.75], 5, "y2"),
    yaxis2=axis([0.7182, 0.9708], [-4.5, 70.8], 20, "x2"),
    xaxis3=axis([0.0861, 0.4891], [-1.8, 26.7], 5, "y3"),
    yaxis3=axis([0.3757, 0.6299], [-3.77, 3.61], 2, "x3"),
    xaxis4=axis([0.5937, 0.9958], [-1.98, 36.06], 10, "y4"),
    yaxis4=axis([0.3748, 0.6284], [-3.8, 3.65], 2, "x4"),
    xaxis5=axis([0.0805, 0.4849], [-78, 1156], 200, "y5"),
    yaxis5=axis([0.0406, 0.2962], [-3.74, 3.62], 2, "x5"),
)

# zero reference lines for the residual panels
for n in (3, 4, 5):
    fig.add_shape(type="line", xref="x%d domain" % n, yref="y%d" % n, x0=0, x1=1, y0=0, y1=0,
                  line=dict(color="#333", width=1.5))

W, H = 717, 1132
labels = [
    ("A", 73, 16, 0, 17), ("B", 441, 11, 0, 17), ("C", 73, 401, 0, 17), ("D", 442, 401, 0, 17),
    ("E", 69, 779, 0, 17),
    ("Observed concentrations [ng ml<sup>−1</sup>]", 17, 181, -90, 19.5),
    ("Observed concentrations [ng ml<sup>−1</sup>]", 391, 180, -90, 19.5),
    ("Conditional weighted residuals", 18, 558, -90, 19.5),
    ("Conditional weighted residuals", 388, 562, -90, 19.5),
    ("Conditional weighted residuals", 17, 933, -90, 19.5),
    ("Population predictions (ng ml<sup>−1</sup>)", 206, 349, 0, 19.5),
    ("Individual predictions (ng ml<sup>−1</sup>)", 575, 347, 0, 19.5),
    ("Population predictions (ng ml<sup>−1</sup>)", 208, 747, 0, 19.5),
    ("Time after last dose (h)", 562, 745, 0, 19.5),
    ("Time after first dose (h)", 198, 1121, 0, 19.5),
]
for text, px, py, ang, size in labels:
    fig.add_annotation(text=text, x=px / W, y=1 - py / H, xref="paper", yref="paper",
                       xanchor="center", yanchor="middle", showarrow=False, textangle=ang,
                       font=dict(family=FONT, size=size, color="black", weight="bold"))

# the page body has a default 8px margin; drop it so the figure sits at the window's origin
fig.write_html("out.html", config={"displayModeBar": False},
               post_script="document.body.style.margin='0';")
